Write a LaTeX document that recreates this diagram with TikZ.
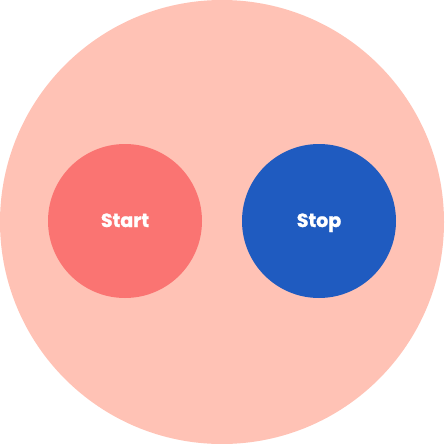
\documentclass[tikz,border=0pt]{standalone}
\usepackage{fontspec}
\setmainfont{Poppins}[BoldFeatures={FakeBold=1.2}]
\definecolor{bigc}{HTML}{FFC2B5}
\definecolor{startc}{HTML}{FA7472}
\definecolor{stopc}{HTML}{1F5BC0}
\begin{document}
\begin{tikzpicture}[x=1pt,y=-1pt,
  disc/.style={circle,draw=none,minimum size=154pt,inner sep=0pt,text=white,text height=12pt,text depth=0pt,font=\fontsize{19}{22}\selectfont\bfseries}]
\useasboundingbox (0,0) rectangle (444,444);
\fill[white] (0,0) rectangle (444,444);
\fill[bigc] (222,222) circle (222);
\node[disc,fill=startc] (start) at (125,221) {Start};
\node[disc,fill=stopc] (stop) at (319,221) {Stop};
\end{tikzpicture}
\end{document}
